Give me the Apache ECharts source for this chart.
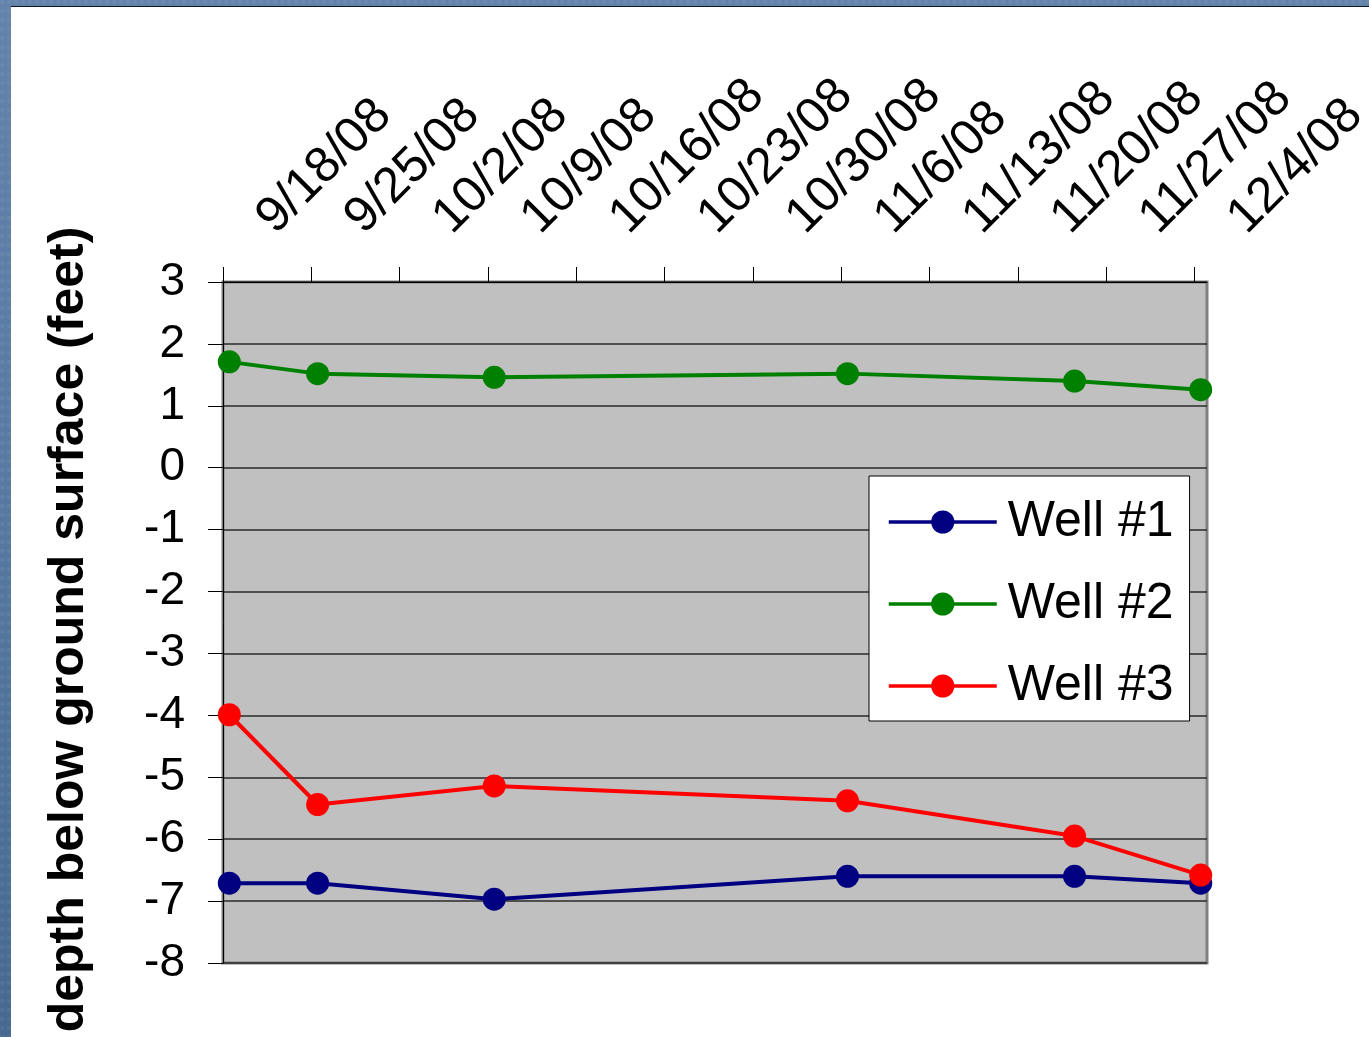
<!DOCTYPE html>
<html>
<head>
<meta charset="utf-8">
<title>Well water levels</title>
<script src="https://cdn.jsdelivr.net/npm/echarts@6/dist/echarts.min.js"></script>
<style>
  html, body { margin: 0; padding: 0; width: 1369px; height: 1037px; overflow: hidden; }
  body {
    background:
      radial-gradient(circle at 30% 20%, rgba(255,255,255,0.05) 0 2px, transparent 3px) 0 0 / 7px 9px,
      linear-gradient(180deg, #6383ab 0%, #587aa2 45%, #47698f 100%);
  }
  #sheet {
    position: absolute; left: 11px; top: 6px; right: 0; bottom: 0;
    background: #ffffff; border-top: 1.5px solid #10141c;
  }
  #chart { position: absolute; left: 0; top: 0; width: 1369px; height: 1037px; }
</style>
</head>
<body>
<div id="sheet"></div>
<div id="chart"></div>
<script>
// Sampling dates and measured depths (feet relative to ground surface)
const sampleDates = ['2008-09-18', '2008-09-25', '2008-10-09', '2008-11-06', '2008-11-24', '2008-12-04'];
const well1 = [-6.71, -6.71, -6.97, -6.60, -6.60, -6.71];
const well2 = [1.71, 1.52, 1.46, 1.52, 1.40, 1.26];
const well3 = [-3.99, -5.44, -5.14, -5.38, -5.95, -6.58];

// Weekly date ticks along the top axis
const tickDates = ['2008-09-18', '2008-09-25', '2008-10-02', '2008-10-09', '2008-10-16', '2008-10-23',
                   '2008-10-30', '2008-11-06', '2008-11-13', '2008-11-20', '2008-11-27', '2008-12-04'];
const axisStart = '2008-09-18';
const axisEnd = '2008-12-05';

// Depth axis range
const depthMin = -8;
const depthMax = 3;
const depthStep = 1;

const DAY = 86400000;
const ts = s => Date.parse(s + 'T00:00:00Z');
// each date occupies a one-day slot; points sit in the middle of their slot
const slotCenter = s => ts(s) + DAY / 2;
const fmtDate = v => {
  const d = new Date(v);
  return (d.getUTCMonth() + 1) + '/' + d.getUTCDate() + '/' + String(d.getUTCFullYear()).slice(2);
};

const FONT = '"Liberation Sans", Arial, sans-serif';

const wells = [
  { name: 'Well #1', values: well1, color: '#000080' },
  { name: 'Well #2', values: well2, color: '#008000' },
  { name: 'Well #3', values: well3, color: '#ff0000' }
];

const chart = echarts.init(document.getElementById('chart'), null, { renderer: 'canvas' });

chart.setOption({
  animation: false,
  backgroundColor: 'transparent',
  grid: {
    left: 223, top: 282, right: 162, bottom: 74,
    show: true,
    backgroundColor: '#c0c0c0',
    borderColor: '#808080',
    borderWidth: 3,
    outerBoundsMode: 'none',
    containLabel: false
  },
  legend: {
    orient: 'vertical',
    left: 869, top: 476,
    itemWidth: 108,
    itemHeight: 29,
    itemGap: 20,
    padding: [15, 16, 4, 18],
    backgroundColor: '#ffffff',
    borderColor: '#000000',
    borderWidth: 1,
    borderRadius: 0,
    selectedMode: false,
    lineStyle: { width: 3.5 },
    textStyle: {
      fontFamily: FONT, fontSize: 50, color: '#000000',
      lineHeight: 50, padding: [0, 0, 12, 6]
    },
    data: wells.map(w => w.name)
  },
  xAxis: [
    {
      // date labels
      type: 'value',
      position: 'top',
      min: ts(axisStart),
      max: ts(axisEnd),
      splitLine: { show: false },
      axisLine: { show: false },
      axisTick: { show: false },
      axisLabel: {
        customValues: tickDates.map(ts),
        rotate: 45,
        align: 'left',
        verticalAlign: 'middle',
        margin: 14,
        padding: [0, 0, 0, 60],
        fontFamily: FONT, fontSize: 50, color: '#000000',
        formatter: v => fmtDate(v)
      }
    },
    {
      // axis line and weekly tick marks along the top edge
      type: 'value',
      position: 'top',
      min: ts(axisStart),
      max: ts(axisEnd),
      splitLine: { show: false },
      axisLine: { show: true, onZero: false, lineStyle: { color: '#000000', width: 1 } },
      axisTick: {
        show: true, length: 15, inside: false,
        lineStyle: { color: '#000000', width: 1 },
        customValues: tickDates.map(ts)
      },
      axisLabel: { show: false }
    }
  ],
  yAxis: {
    type: 'value',
    min: depthMin, max: depthMax, interval: depthStep,
    name: 'depth below ground surface (feet)',
    nameLocation: 'middle',
    nameRotate: 90,
    nameGap: 129,
    nameTextStyle: {
      fontFamily: FONT, fontSize: 50, fontWeight: 'bold', color: '#000000',
      padding: [0, 14, 0, 0]
    },
    axisLine: { show: true, onZero: false, lineStyle: { color: '#000000', width: 1 } },
    axisTick: { show: true, length: 15, lineStyle: { color: '#000000', width: 1 } },
    axisLabel: {
      margin: 38,
      fontFamily: FONT, fontSize: 46, color: '#000000'
    },
    splitLine: { show: true, lineStyle: { color: '#2a2a2a', width: 1.5 } }
  },
  series: wells.map(w => ({
    name: w.name,
    type: 'line',
    xAxisIndex: 0,
    symbol: 'circle',
    symbolSize: 23,
    showSymbol: true,
    color: w.color,
    itemStyle: { color: w.color },
    lineStyle: { color: w.color, width: 4 },
    emphasis: { disabled: true },
    data: sampleDates.map((d, i) => [slotCenter(d), w.values[i]])
  }))
});
</script>
</body>
</html>
